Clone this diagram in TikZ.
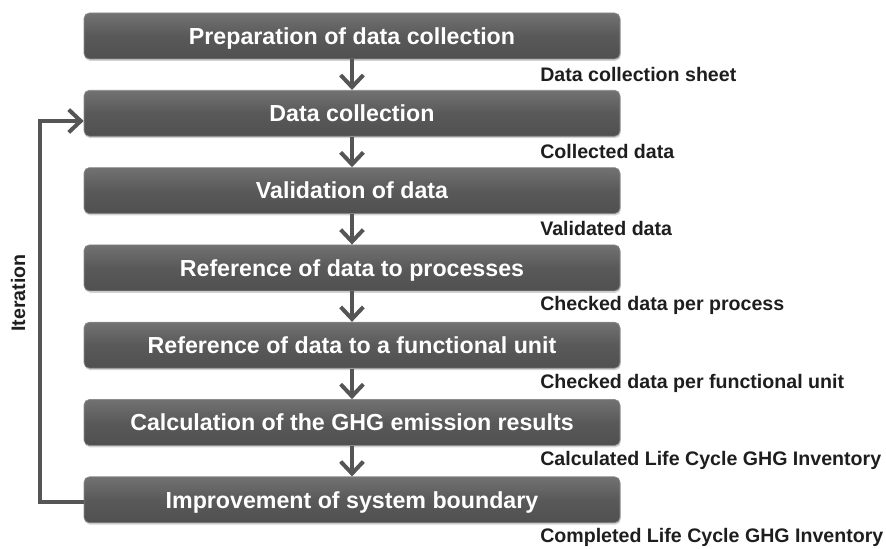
\documentclass[tikz,border=0pt]{standalone}
\usepackage{fontspec}
\setmainfont{Liberation Sans}
\usetikzlibrary{arrows.meta,shadows}
\definecolor{stagegray}{HTML}{595959}
\definecolor{stageedge}{HTML}{8C8C8C}
\definecolor{flowgray}{HTML}{555555}
\definecolor{labelblack}{HTML}{1E1E1E}
\begin{document}
\begin{tikzpicture}[x=0.75pt,y=-0.75pt,
    stage/.style={draw=stageedge, line width=0.5pt, rounded corners=4pt,
        top color=stagegray!85!white, bottom color=stagegray!90!black,
        middle color=stagegray,
        minimum width=402pt, minimum height=34.5pt, inner sep=0pt,
        text height=12.5pt, text depth=0pt,
        text=white, font=\bfseries\fontsize{17.4}{19}\selectfont,
        drop shadow={shadow xshift=0.6pt, shadow yshift=-1.4pt, opacity=0.35}},
    result/.style={anchor=west, inner sep=0pt, text=labelblack,
        font=\bfseries\fontsize{14.7}{17}\selectfont},
    flow/.style={draw=flowgray, line width=3pt,
        -{Straight Barb[length=9pt, width=17pt, line width=3pt]}}]
    \useasboundingbox (0,0) rectangle (886,549);

    \def\cx{352}
    \def\dy{77.3}

    % process steps, top to bottom
    \foreach \n/\t in {1/Preparation of data collection,
                       2/Data collection,
                       3/Validation of data,
                       4/Reference of data to processes,
                       5/Reference of data to a functional unit,
                       6/Calculation of the GHG emission results,
                       7/Improvement of system boundary}{
        \node[stage] (s\n) at (\cx, 36+\dy*\n-\dy) {\t};
    }

    % outputs of each step
    \foreach \n/\t in {1/Data collection sheet,
                       2/Collected data,
                       3/Validated data,
                       4/Checked data per process,
                       5/Checked data per functional unit,
                       6/Calculated Life Cycle GHG Inventory,
                       7/Completed Life Cycle GHG Inventory}{
        \node[result] (r\n) at (540, 74+\dy*\n-\dy) {\t};
    }

    % downward flow
    \foreach \a/\b in {1/2, 2/3, 3/4, 4/5, 5/6, 6/7}{
        \draw[flow] (s\a.south) -- (s\b.north);
    }

    % iteration loop back to data collection
    \coordinate (loopbot) at (40, 502);
    \coordinate (looptop) at (40, 121);
    \draw[flow] (s7.west |- loopbot) -- (loopbot) -- (looptop) -- (s2.west |- looptop);
    \node[result, anchor=center, rotate=90] (iter) at (18, 293) {Iteration};
\end{tikzpicture}
\end{document}
